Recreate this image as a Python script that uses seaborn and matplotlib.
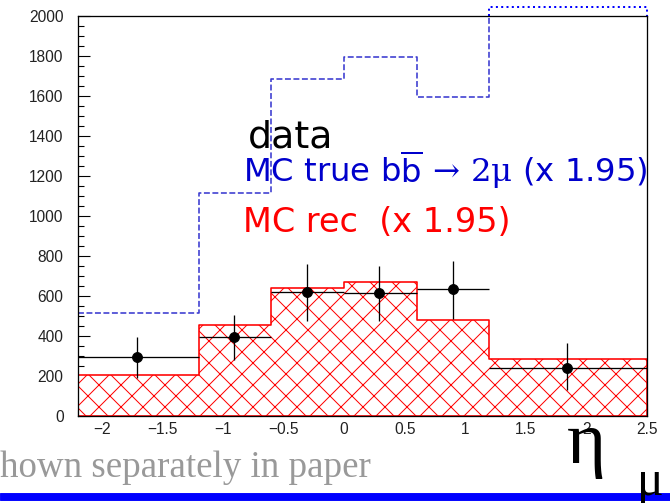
import matplotlib
matplotlib.use('Agg')
import matplotlib.pyplot as plt
import seaborn as sns
from matplotlib.ticker import MultipleLocator
from matplotlib.patches import Rectangle

# bin edges in eta_mu and bin contents
edges = [-2.2, -1.2, -0.6, 0.0, 0.6, 1.2, 2.5]
mc_true = [515, 1115, 1685, 1795, 1595, 2045]
mc_rec = [205, 455, 640, 670, 480, 285]

# data points with asymmetric errors
data_x = [-1.71, -0.91, -0.31, 0.29, 0.90, 1.84]
data_y = [295, 395, 620, 615, 635, 240]
err_lo = [105, 115, 145, 140, 150, 110]
err_hi = [100, 110, 140, 135, 140, 125]

x_ticks = [-2, -1.5, -1, -0.5, 0, 0.5, 1, 1.5, 2, 2.5]
y_ticks = list(range(0, 2001, 200))

# dpi chosen so the 'x' hatch comes out at about the reference spacing
W, H, DPI = 670, 503, 66


def fpos(x, y):
    # pixel position (from top-left) -> figure fraction
    return x / W, 1 - y / H


def pt(px):
    # pixel size -> points at this dpi
    return px * 72 / DPI


sns.set_style('ticks')
plt.rcParams['font.family'] = ['DejaVu Sans']
plt.rcParams['mathtext.fontset'] = 'dejavuserif'
plt.rcParams['hatch.color'] = '#ff2a2a'
plt.rcParams['hatch.linewidth'] = pt(1.0)

fig = plt.figure(figsize=(W / DPI, H / DPI), dpi=DPI)
ax = fig.add_axes([77.5 / W, 1 - 416 / H, (647 - 77.5) / W, 400 / H])

centers = [(a + b) / 2 for a, b in zip(edges[:-1], edges[1:])]

# MC rec, hatched
sns.histplot(x=centers, weights=mc_rec, bins=edges, element='step', fill=True,
             facecolor='white', edgecolor='red', hatch='x', linewidth=pt(1.6), ax=ax)

# MC true, dashed
sns.histplot(x=centers, weights=mc_true, bins=edges, element='step', fill=False,
             color='#3a3ad0', linestyle='--', linewidth=pt(1.6), ax=ax)

# part of the last MC true bin that sticks out above the frame
ax.plot([edges[-2], edges[-2], edges[-1], edges[-1]],
        [y_ticks[-1], mc_true[-1], mc_true[-1], y_ticks[-1]],
        linestyle=':', color='#0000ff', linewidth=pt(2), clip_on=False)

# data
x_lo = [x - e for x, e in zip(data_x, edges[:-1])]
x_hi = [e - x for x, e in zip(data_x, edges[1:])]
ax.errorbar(data_x, data_y, yerr=[err_lo, err_hi], xerr=[x_lo, x_hi],
            fmt='none', ecolor='black', elinewidth=pt(1.3), capsize=0, zorder=4)
sns.scatterplot(x=data_x, y=data_y, color='black', s=pt(10) ** 2, edgecolor='black',
                zorder=5, ax=ax)

ax.set_xlim(edges[0], edges[-1])
ax.set_ylim(0, y_ticks[-1])
ax.set_xticks(x_ticks)
ax.set_yticks(y_ticks)
ax.set_xticklabels([f'{t:g}'.replace('-', '\u2212') for t in x_ticks])
ax.xaxis.set_minor_locator(MultipleLocator(0.1))
ax.yaxis.set_minor_locator(MultipleLocator(50))
ax.set_xlabel('')
ax.set_ylabel('')
ax.tick_params(which='both', direction='in', top=False, right=False,
               colors='black', labelcolor='#222222', width=pt(1.1))
ax.tick_params(which='major', length=pt(12))
ax.tick_params(which='minor', length=pt(6))
ax.tick_params(axis='y', pad=pt(14))
ax.tick_params(axis='x', pad=pt(6.5))
for lab in ax.get_xticklabels() + ax.get_yticklabels():
    lab.set_family('Liberation Sans')
    lab.set_fontsize(pt(15.5))
for sp in ax.spines.values():
    sp.set_linewidth(pt(1.3))
    sp.set_color('black')

# legend written as plain text
fig.text(*fpos(248, 147), 'data', fontsize=pt(38), color='black', va='baseline')
fig.text(*fpos(243, 182),
         r'MC true b$\overline{\mathsf{b}}\,\rightarrow\,\mathrm{2\mu}$ (x 1.95)',
         fontsize=pt(32.3), color='#0000cc', va='baseline')
fig.text(*fpos(243, 232), 'MC rec  (x 1.95)', fontsize=pt(33.5), color='red',
         va='baseline')

# slide leftovers
fig.text(*fpos(0, 477), 'hown separately in paper', family='Liberation Serif',
         fontsize=pt(37), color='#999999', va='baseline')
fig.add_artist(Rectangle(fpos(0, 500), 1, 7 / H, transform=fig.transFigure,
                         color='#0000ff', zorder=1))
fig.text(*fpos(567, 463), '\u03b7', family='Liberation Serif', fontsize=pt(75),
         color='black', va='baseline', zorder=5)
fig.text(*fpos(637, 495), '\u03bc', family='Liberation Serif', fontsize=pt(50),
         color='black', va='baseline', zorder=5)

fig.savefig('out.png', dpi=DPI)
